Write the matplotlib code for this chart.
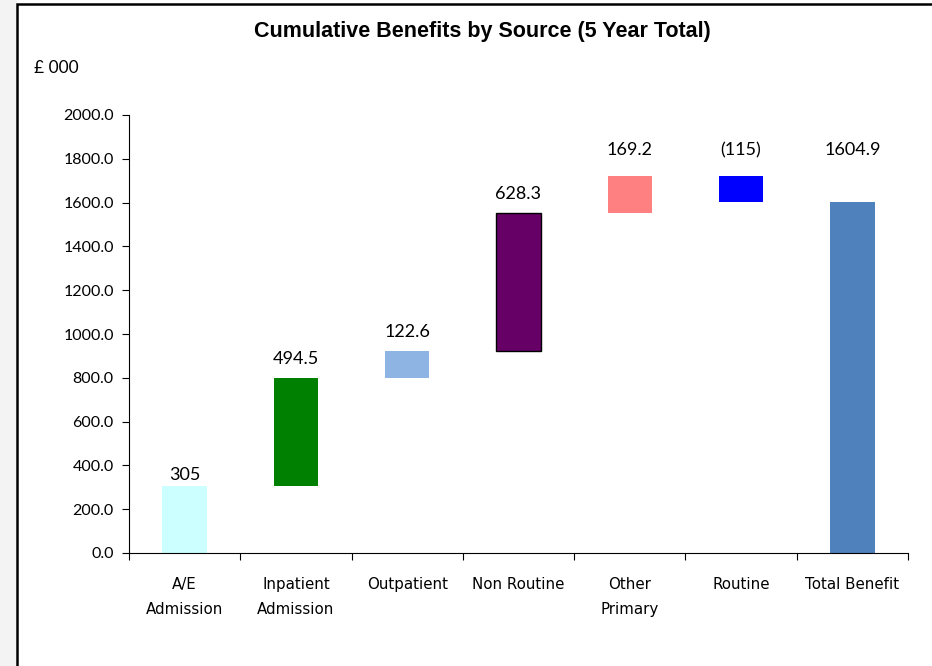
import matplotlib
matplotlib.use('Agg')
import matplotlib.pyplot as plt
import numpy as np
from matplotlib.patches import Rectangle

categories = ['A/E\nAdmission', 'Inpatient\nAdmission', 'Outpatient', 'Non Routine',
              'Other\nPrimary', 'Routine', 'Total Benefit']
values = [305, 494.5, 122.6, 628.3, 169.2, -115, 1604.9]
value_labels = ['305', '494.5', '122.6', '628.3', '169.2', '(115)', '1604.9']
colors = ['#CCFFFF', '#008000', '#8DB4E2', '#660066', '#FF8080', '#0000FF', '#4F81BD']
edges = ['none', 'none', 'none', 'black', 'none', 'none', 'none']
yticks = [0, 200, 400, 600, 800, 1000, 1200, 1400, 1600, 1800, 2000]

# waterfall bottoms / heights
bottoms = []
heights = []
running = 0.0
for i, v in enumerate(values):
    if i == len(values) - 1:
        bottoms.append(0)
        heights.append(v)
    elif v >= 0:
        bottoms.append(running)
        heights.append(v)
        running += v
    else:
        running += v
        bottoms.append(running)
        heights.append(-v)

fig = plt.figure(figsize=(9.32, 6.66), dpi=100)

# faint shading on the left edge and outer frame
fig.patches.append(Rectangle((0, 0), 17 / 932, 1, transform=fig.transFigure,
                             facecolor='#f3f3f3', edgecolor='none', zorder=-2))
fig.patches.append(Rectangle((17 / 932, -0.1), 1.2, 1.1 - 4 / 666,
                             transform=fig.transFigure, facecolor='white',
                             edgecolor='black', lw=1.8, zorder=-1))

ax = fig.add_axes([129 / 932, 113 / 666, 779 / 932, 438 / 666])
ax.set_facecolor('none')

x = np.arange(len(categories))
ax.bar(x, heights, bottom=bottoms, width=0.4, color=colors,
       edgecolor=edges, linewidth=1.0)

# label offsets above the first bars; the last three sit on one line
offsets = [50, 88, 88, 88]
for i, lab in enumerate(value_labels):
    if i >= 4:
        ypos = 1838
    else:
        ypos = bottoms[i] + heights[i] + offsets[i]
    ax.text(x[i], ypos, lab, ha='center', va='center', fontsize=13,
            family='Lato')

ax.set_xlim(-0.5, len(categories) - 0.5)
ax.set_ylim(0, 2000)
ax.set_yticks(yticks)
ax.set_yticklabels([f'{t:.1f}' for t in yticks], family='Lato', fontsize=11.5)
ax.set_xticks(np.arange(len(categories) + 1) - 0.5)
ax.set_xticklabels([])
ax.set_xticks(x, minor=True)
ax.set_xticklabels(categories, minor=True, family='DejaVu Sans', fontsize=10.8,
                   linespacing=1.9)
ax.tick_params(axis='x', which='minor', length=0, pad=17)
ax.tick_params(axis='x', which='major', length=5, direction='out')
ax.tick_params(axis='y', length=5, direction='out', pad=6)
ax.spines['top'].set_visible(False)
ax.spines['right'].set_visible(False)

fig.text(482 / 932, 1 - 31 / 666, 'Cumulative Benefits by Source (5 Year Total)',
         ha='center', va='center', fontsize=15.5, fontweight='bold',
         family='Liberation Sans')
fig.text(34 / 932, 1 - 68 / 666, '£ 000', ha='left', va='center',
         fontsize=12.5, family='Lato')

fig.savefig('out.png', dpi=100)
